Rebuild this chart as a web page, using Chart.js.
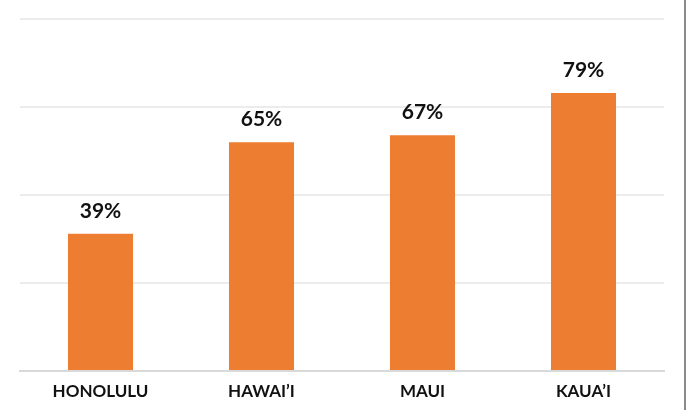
<!DOCTYPE html>
<html>
<head>
<meta charset="utf-8">
<script src="https://cdn.jsdelivr.net/npm/chart.js@4/dist/chart.umd.min.js"></script>
<style>
  html, body { margin: 0; padding: 0; background: #fff; }
  #wrap { position: relative; width: 686px; height: 410px; }
  #edge { position: absolute; right: 0; top: 0; width: 2px; height: 410px; background: #8a8a8a; }
</style>
</head>
<body>
<div id="wrap">
  <canvas id="chart" width="686" height="410"></canvas>
  <div id="edge"></div>
</div>
<script>
// island share values (%)
const islands = ['HONOLULU', 'HAWAI\u2019I', 'MAUI', 'KAUA\u2019I'];
const shares = [39, 65, 67, 79];
const yTicks = [0, 25, 50, 75, 100];

const FONT = 'Lato, "Open Sans", sans-serif';

// draws the % above each bar
const barLabels = {
  id: 'barLabels',
  afterDatasetsDraw(chart) {
    const ctx = chart.ctx;
    const meta = chart.getDatasetMeta(0);
    ctx.save();
    ctx.font = 'bold 21px ' + FONT;
    ctx.fillStyle = '#111';
    ctx.textAlign = 'center';
    ctx.textBaseline = 'bottom';
    meta.data.forEach((bar, i) => {
      ctx.fillText(shares[i] + '%', bar.x, bar.y - 12);
    });
    ctx.restore();
  }
};

new Chart(document.getElementById('chart'), {
  type: 'bar',
  data: {
    labels: islands,
    datasets: [{
      data: shares,
      backgroundColor: '#ED7D31',
      categoryPercentage: 1,
      barPercentage: 0.404
    }]
  },
  options: {
    responsive: false,
    animation: false,
    layout: { padding: { left: 20, right: 22, top: 19, bottom: 0 } },
    plugins: { legend: { display: false }, tooltip: { enabled: false } },
    scales: {
      x: {
        afterFit: axis => { axis.height = 39; },
        grid: { display: false, drawTicks: false },
        border: { display: true, color: '#d9d9d9', width: 2 },
        ticks: {
          padding: 10,
          color: '#111',
          font: { family: FONT, size: 17, weight: 'bold' }
        }
      },
      y: {
        min: 0,
        max: 100,
        afterBuildTicks: axis => { axis.ticks = yTicks.map(v => ({ value: v })); },
        grid: { color: '#ececec', lineWidth: 2, drawTicks: false },
        border: { display: false },
        ticks: { display: false }
      }
    }
  },
  plugins: [barLabels]
});
</script>
</body>
</html>
